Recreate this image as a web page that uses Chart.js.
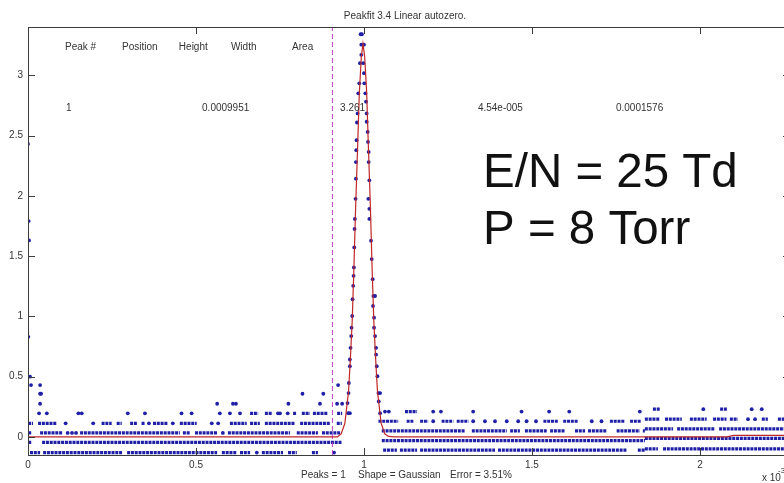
<!DOCTYPE html>
<html>
<head>
<meta charset="utf-8">
<script src="https://cdn.jsdelivr.net/npm/chart.js@4.4.1/dist/chart.umd.min.js"></script>
<style>
  html, body { margin: 0; padding: 0; background: #fff; overflow: hidden; width: 784px; height: 483px; }
  canvas { display: block; }
</style>
</head>
<body>
<canvas id="myChart" width="800" height="483"></canvas>
<script>
// axis ranges and ticks (time axis is in units of 1e-3)
const xTicks = [0, 0.5, 1, 1.5, 2];
const yTicks = [0, 0.5, 1, 1.5, 2, 2.5, 3];
const xMin = 0, xMax = 2.268;
const yMin = -0.15, yMax = 3.4;

// quantised noise rows: level, dense runs [x0, x1], isolated dots
const rowLevels = [-0.13, -0.046, 0.033, 0.113, 0.196, 0.275, 0.358, 0.43,
                   -0.11, -0.03, 0.05, 0.13, 0.21,
                   -0.1, -0.012, 0.067, 0.147, 0.23];
const rowRuns = [
  [[0.006,0.036],[0.045,0.280],[0.295,0.563],[0.577,0.622],[0.631,0.661],[0.696,0.759],[0.774,0.800],[0.845,0.863]],
  [[0.0,0.012],[0.042,0.935]],
  [[0.0,0.012],[0.036,0.104],[0.155,0.452],[0.461,0.482],[0.497,0.565],[0.595,0.780],[0.800,0.863],[0.875,0.929]],
  [[0.0,0.015],[0.030,0.086],[0.219,0.249],[0.264,0.279],[0.304,0.324],[0.338,0.348],[0.372,0.417],[0.452,0.502],[0.601,0.651],[0.661,0.690],[0.705,0.795],[0.810,0.899],[0.919,0.934]],
  [[0.661,0.685],[0.705,0.726],[0.789,0.800],[0.815,0.839],[0.848,0.893],[0.920,0.935]],
  [],
  [],
  [],
  [[1.057,1.098],[1.107,1.158],[1.167,1.390],[1.399,1.783],[1.815,1.836]],
  [[1.053,1.836]],
  [[1.053,1.301],[1.321,1.425],[1.435,1.464],[1.479,1.544],[1.554,1.598],[1.628,1.658],[1.667,1.722],[1.752,1.821],[1.830,1.836]],
  [[1.043,1.102],[1.127,1.147],[1.167,1.191],[1.231,1.266],[1.276,1.311],[1.534,1.578],[1.593,1.638],[1.732,1.777],[1.792,1.826]],
  [[1.122,1.158]],
  [[1.836,1.875],[1.890,2.27]],
  [[1.836,2.27]],
  [[1.836,1.920],[1.932,2.045],[2.057,2.27]],
  [[1.836,1.881],[1.896,1.946],[1.970,2.020],[2.039,2.079],[2.089,2.113],[2.184,2.202],[2.232,2.27]],
  [[1.860,1.881],[2.060,2.080]]
];
const rowDots = [
  [0.681, 0.911],
  [],
  [0.118, 0.131, 0.143, 0.580],
  [0.112, 0.194, 0.360, 0.431, 0.547, 0.566],
  [0.033, 0.056, 0.150, 0.160, 0.297, 0.348, 0.457, 0.487, 0.571, 0.601, 0.631, 0.744, 0.750, 0.773],
  [0.036, 0.563, 0.610, 0.619, 0.775, 0.869, 0.920, 0.935],
  [0.036, 0.039, 0.817, 0.879],
  [0.009, 0.036, 0.923],
  [],
  [],
  [],
  [1.206, 1.325, 1.360, 1.390, 1.425, 1.459, 1.484, 1.512, 1.678, 1.707],
  [1.0625, 1.074, 1.206, 1.229, 1.325, 1.469, 1.551, 1.611, 1.821],
  [],
  [],
  [],
  [2.143, 2.164],
  [2.010, 2.154, 2.184]
];

// the spike at t = 0
const spikeX = [0.006, 0.001, 0.003, 0.002, 0.0];
const spikeY = [0.50, 0.83, 1.63, 1.79, 2.43];

// samples on the peak
const peakX = [0.995, 0.990, 0.994, 0.992, 0.992, 0.988, 0.986, 0.983, 0.981, 0.979, 0.978, 0.977, 0.976, 0.976,
               0.975, 0.973, 0.972, 0.971, 0.970, 0.969, 0.968, 0.966, 0.965, 0.963, 0.962, 0.960, 0.958, 0.958,
               0.955, 0.954, 0.951, 0.953, 0.958,
               1.000, 0.998, 1.000, 1.001, 1.004, 1.006, 1.008, 1.008, 1.011, 1.012, 1.014, 1.014, 1.016, 1.013,
               1.016, 1.016, 1.021, 1.023, 1.026, 1.028, 1.033, 1.027, 1.030, 1.030, 1.033, 1.036, 1.036, 1.038,
               1.040, 1.043, 1.048, 1.044, 1.048];
const peakY = [3.414, 3.34, 3.34, 3.253, 3.169, 3.10, 2.933, 2.85, 2.683, 2.608, 2.461, 2.378, 2.28, 2.142,
               1.975, 1.808, 1.725, 1.572, 1.406, 1.336, 1.253, 1.142, 1.003, 0.906, 0.836, 0.739, 0.642, 0.586,
               0.447, 0.364, 0.281, 0.197, 0.197,
               3.253, 3.10, 3.017, 2.933, 2.85, 2.781, 2.683, 2.614, 2.53, 2.447, 2.364, 2.28, 2.128, 1.975,
               1.892, 1.808, 1.628, 1.475, 1.308, 1.169, 1.169, 1.086, 0.989, 0.906, 0.836, 0.739, 0.683, 0.586,
               0.503, 0.364, 0.364, 0.294, 0.197];

// fitted gaussian (red)
const fitX = [0, 0.921, 0.932, 0.943, 0.954, 0.959, 0.965, 0.970, 0.975, 0.981, 0.986, 0.992, 0.997,
              1.002, 1.008, 1.013, 1.019, 1.024, 1.029, 1.035, 1.040, 1.051, 1.062, 1.073, 1.09, 2.08, 2.10, 2.27];
const fitY = [0, 0, 0.025, 0.111, 0.375, 0.621, 0.964, 1.396, 1.893, 2.399, 2.843, 3.149, 3.261,
              3.157, 2.858, 2.419, 1.914, 1.416, 0.979, 0.633, 0.383, 0.114, 0.026, 0.004, 0, 0, 0.012, 0.012];

// start-of-fit marker
const markerX = 0.906;

// table of fit results
const tableHeads = ['Peak #', 'Position', 'Height', 'Width', 'Area'];
const tableValues = ['1', '0.0009951', '3.261', '4.54e-005', '0.0001576'];
const headX = [0.110, 0.280, 0.449, 0.604, 0.786];
const valueX = [0.113, 0.518, 0.929, 1.339, 1.750];

const runPoints = [];
rowLevels.forEach((lvl, i) => {
  rowRuns[i].forEach(([a, b]) => {
    runPoints.push({ x: a, y: lvl }, { x: b, y: lvl }, { x: b, y: null });
  });
});

const dotPoints = [];
rowLevels.forEach((lvl, i) => {
  rowDots[i].forEach((x) => dotPoints.push({ x: x, y: lvl }));
});
spikeX.forEach((x, i) => dotPoints.push({ x: x, y: spikeY[i] }));
peakX.forEach((x, i) => dotPoints.push({ x: x, y: peakY[i] }));

const fitPoints = fitX.map((x, i) => ({ x: x, y: fitY[i] }));

const FONT = '"Liberation Sans", Arial, sans-serif';
const BLUE = '#1f1fa8';

const decorations = {
  id: 'decorations',
  afterDatasetsDraw(chart) {
    const { ctx, chartArea: a, scales: { x, y } } = chart;
    ctx.save();

    // axes box and inward ticks
    ctx.strokeStyle = '#3c3c3c';
    ctx.lineWidth = 1;
    ctx.strokeRect(a.left + 0.5, a.top + 0.5, a.right - a.left, a.bottom - a.top);
    ctx.beginPath();
    xTicks.forEach((v) => {
      const px = Math.round(x.getPixelForValue(v)) + 0.5;
      ctx.moveTo(px, a.bottom); ctx.lineTo(px, a.bottom - 7);
      ctx.moveTo(px, a.top); ctx.lineTo(px, a.top + 7);
    });
    yTicks.forEach((v) => {
      const py = Math.round(y.getPixelForValue(v)) + 0.5;
      ctx.moveTo(a.left, py); ctx.lineTo(a.left + 7, py);
      ctx.moveTo(a.right, py); ctx.lineTo(a.right - 7, py);
    });
    ctx.stroke();

    // tick labels
    ctx.fillStyle = '#333';
    ctx.font = '10px ' + FONT;
    ctx.textAlign = 'center';
    ctx.textBaseline = 'middle';
    xTicks.forEach((v) => ctx.fillText(String(v), x.getPixelForValue(v), 465));
    ctx.textAlign = 'right';
    yTicks.forEach((v) => ctx.fillText(String(v), 23, y.getPixelForValue(v)));

    // title and footer
    ctx.textAlign = 'center';
    ctx.fillText('Peakfit 3.4 Linear autozero.', 405, 16);
    ctx.textAlign = 'left';
    ctx.fillText('Peaks = 1', 301, 475);
    ctx.fillText('Shape = Gaussian', 358, 475);
    ctx.fillText('Error = 3.51%', 450, 475);
    ctx.fillText('x 10', 762, 478);
    ctx.font = '8px ' + FONT;
    ctx.fillText('-3', 778, 471);

    // results table
    ctx.font = '10px ' + FONT;
    tableHeads.forEach((t, i) => ctx.fillText(t, x.getPixelForValue(headX[i]), y.getPixelForValue(3.233)));
    tableValues.forEach((t, i) => ctx.fillText(t, x.getPixelForValue(valueX[i]), y.getPixelForValue(2.725)));

    // conditions
    ctx.fillStyle = '#111';
    ctx.font = '47.5px ' + FONT;
    ctx.textBaseline = 'alphabetic';
    ctx.fillText('E/N = 25 Td', 483, 187);
    ctx.fillText('P = 8 Torr', 483, 244);

    ctx.restore();
  }
};

new Chart(document.getElementById('myChart'), {
  type: 'scatter',
  data: {
    datasets: [
      {
        data: fitPoints,
        showLine: true,
        borderColor: '#c02828',
        borderWidth: 1.2,
        pointRadius: 0,
        order: 0
      },
      {
        data: [{ x: markerX, y: yMin }, { x: markerX, y: yMax }],
        showLine: true,
        borderColor: '#c03cc8',
        borderWidth: 1,
        borderDash: [5, 3],
        pointRadius: 0,
        order: 1
      },
      {
        data: dotPoints,
        pointStyle: 'circle',
        pointRadius: 1.9,
        pointBackgroundColor: BLUE,
        pointBorderWidth: 0,
        order: 2
      },
      {
        data: runPoints,
        showLine: true,
        spanGaps: false,
        borderColor: BLUE,
        borderWidth: 3.2,
        borderDash: [3, 0.8],
        borderCapStyle: 'butt',
        pointRadius: 0,
        order: 3
      }
    ]
  },
  options: {
    responsive: false,
    animation: false,
    events: [],
    layout: { padding: { left: 28, top: 27, right: 10, bottom: 28 } },
    plugins: { legend: { display: false }, tooltip: { enabled: false } },
    scales: {
      x: { type: 'linear', min: xMin, max: xMax, display: false },
      y: { type: 'linear', min: yMin, max: yMax, display: false }
    }
  },
  plugins: [decorations]
});
</script>
</body>
</html>
